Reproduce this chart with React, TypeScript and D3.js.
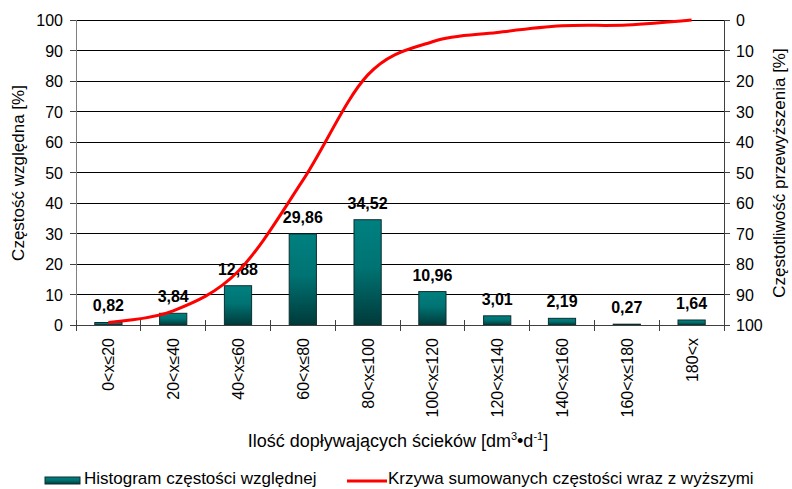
import React from "react";
import * as d3 from "d3";

const categories = ["0<x≤20", "20<x≤40", "40<x≤60", "60<x≤80", "80<x≤100", "100<x≤120", "120<x≤140", "140<x≤160", "160<x≤180", "180<x"];
const histogram = [0.82, 3.84, 12.88, 29.86, 34.52, 10.96, 3.01, 2.19, 0.27, 1.64];
const histogramLabels = ["0,82", "3,84", "12,88", "29,86", "34,52", "10,96", "3,01", "2,19", "0,27", "1,64"];
const exceedance = [99.18, 95.34, 82.46, 52.6, 18.08, 7.12, 4.11, 1.92, 1.65, 0];
const yTicks = [0, 10, 20, 30, 40, 50, 60, 70, 80, 90, 100];

const W = 792;
const H = 489;
const left = 76;
const right = 724;
const top = 20;
const bottom = 325;
const font = "'Liberation Sans', Arial, sans-serif";

export default function App() {
  const x = d3.scaleBand<string>().domain(categories).range([left, right]).paddingInner(0).paddingOuter(0);
  const y = d3.scaleLinear().domain([0, 100]).range([bottom, top]);
  const yR = d3.scaleLinear().domain([0, 100]).range([top, bottom]);
  const bw = x.bandwidth() * 0.42;
  const line = d3
    .line<number>()
    .x((_, i) => (x(categories[i]) as number) + x.bandwidth() / 2)
    .y((d) => yR(d))
    .curve(d3.curveCatmullRom.alpha(0));
  const boundaries = categories.map((c) => x(c) as number).concat([right]);

  return (
    <svg width={W} height={H} style={{ position: "absolute", left: 0, top: 0, background: "#fff" }} fontFamily={font}>
      <defs>
        <linearGradient id="barGrad" x1="0" y1="0" x2="0" y2="1">
          <stop offset="0" stopColor="#008080" />
          <stop offset="0.45" stopColor="#007373" />
          <stop offset="1" stopColor="#003a3a" />
        </linearGradient>
      </defs>
      <rect x={0} y={0} width={W} height={H} fill="#fff" />
      {yTicks.filter((t) => t > 0).map((t) => (
        <line key={t} x1={left} x2={right} y1={y(t)} y2={y(t)} stroke="#000" strokeWidth={1} shapeRendering="crispEdges" />
      ))}
      {histogram.map((v, i) => {
        const cx = (x(categories[i]) as number) + x.bandwidth() / 2;
        return (
          <g key={i}>
            <rect x={cx - bw / 2} y={y(v)} width={bw} height={bottom - y(v)} fill="url(#barGrad)" stroke="#0d2e2e" strokeWidth={1} />
            <text x={cx} y={y(v) - 11} textAnchor="middle" fontSize={16} fontWeight="bold" fill="#000">
              {histogramLabels[i]}
            </text>
          </g>
        );
      })}
      <line x1={left} x2={left} y1={top} y2={bottom} stroke="#808080" strokeWidth={1} shapeRendering="crispEdges" />
      <line x1={right} x2={right} y1={top} y2={bottom} stroke="#404040" strokeWidth={1} shapeRendering="crispEdges" />
      <line x1={left} x2={right} y1={bottom} y2={bottom} stroke="#404040" strokeWidth={1} shapeRendering="crispEdges" />
      {yTicks.map((t) => (
        <g key={"l" + t}>
          <line x1={left - 6} x2={left} y1={y(t)} y2={y(t)} stroke="#404040" shapeRendering="crispEdges" />
          <text x={63} y={y(t) + 6} textAnchor="end" fontSize={16} fill="#000">{t}</text>
        </g>
      ))}
      {yTicks.map((t) => (
        <g key={"r" + t}>
          <line x1={right} x2={right + 6} y1={yR(t)} y2={yR(t)} stroke="#404040" shapeRendering="crispEdges" />
          <text x={736} y={yR(t) + 6} textAnchor="start" fontSize={16} fill="#000">{t}</text>
        </g>
      ))}
      {boundaries.map((b, i) => (
        <line key={"xt" + i} x1={b} x2={b} y1={bottom - 5} y2={bottom + 6} stroke="#404040" shapeRendering="crispEdges" />
      ))}
      {categories.map((c) => {
        const cx = (x(c) as number) + x.bandwidth() / 2;
        return (
          <text key={c} transform={`translate(${cx + 6},338) rotate(-90)`} textAnchor="end" fontSize={16} fill="#000">
            {c}
          </text>
        );
      })}
      <path d={line(exceedance) as string} fill="none" stroke="#ff0000" strokeWidth={3} strokeLinejoin="round" />
      <text transform="translate(24,173) rotate(-90)" textAnchor="middle" fontSize={17} fill="#000">
        Częstość względna [%]
      </text>
      <text transform="translate(785,173) rotate(-90)" textAnchor="middle" fontSize={17} fill="#000">
        Częstotliwość przewyższenia [%]
      </text>
      <text x={398} y={447} textAnchor="middle" fontSize={18} fill="#000">
        Ilość dopływających ścieków [dm
        <tspan fontSize={11} dy={-7}>3</tspan>
        <tspan dy={7}>•d</tspan>
        <tspan fontSize={11} dy={-7}>-1</tspan>
        <tspan dy={7}>]</tspan>
      </text>
      <rect x={45} y={477} width={35} height={7} fill="url(#barGrad)" stroke="#0d2e2e" strokeWidth={1} />
      <text x={84} y={484} fontSize={17} fill="#000">Histogram częstości względnej</text>
      <line x1={347} x2={387} y1={481} y2={481} stroke="#ff0000" strokeWidth={3} />
      <text x={388} y={484} fontSize={17} fill="#000">Krzywa sumowanych częstości wraz z wyższymi</text>
    </svg>
  );
}
